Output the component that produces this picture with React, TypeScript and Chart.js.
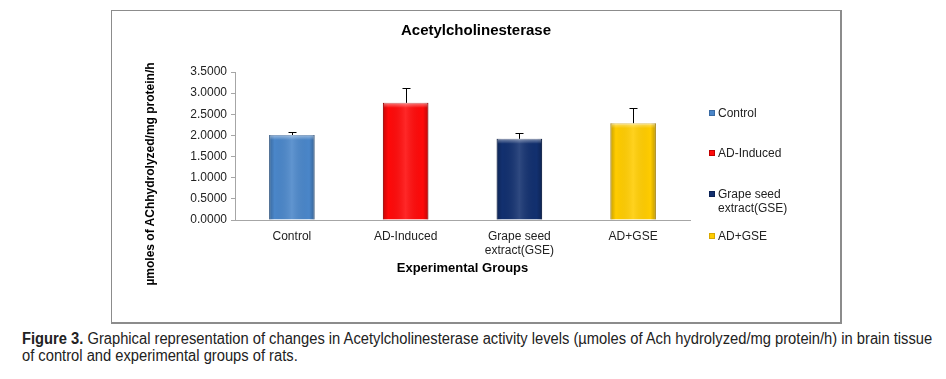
import React, { useEffect, useRef } from "react";
import { Chart, registerables } from "chart.js";

Chart.register(...registerables);

const categories = ["Control", "AD-Induced", "Grape seed extract(GSE)", "AD+GSE"];
const tickLabels: (string | string[])[] = ["Control", "AD-Induced", ["Grape seed", "extract(GSE)"], "AD+GSE"];
const legendLabels: string[][] = [["Control"], ["AD-Induced"], ["Grape seed", "extract(GSE)"], ["AD+GSE"]];
const meanValues = [2.01, 2.77, 1.92, 2.29];
const errorValues = [0.06, 0.34, 0.14, 0.37];
const barColors = ["#4a86c9", "#ff0a0a", "#12306f", "#ffcc00"];
const barBorders = ["#3a6aa3", "#c00000", "#0b2255", "#d9a800"];
const yTickValues = [0, 0.5, 1, 1.5, 2, 2.5, 3, 3.5];

const FONT = "'Liberation Sans', Arial, sans-serif";

const bevelAndErrorPlugin = {
  id: "bevelAndError",
  afterDatasetsDraw(chart: any) {
    const ctx = chart.ctx;
    const meta = chart.getDatasetMeta(0);
    const yScale = chart.scales.y;
    meta.data.forEach((el: any, i: number) => {
      const props = el.getProps(["x", "y", "base", "width"], true);
      const left = props.x - props.width / 2;
      const right = props.x + props.width / 2;
      const top = props.y;
      const bottom = props.base;
      ctx.save();
      const g = ctx.createLinearGradient(left, 0, right, 0);
      g.addColorStop(0, "rgba(0,0,0,0.22)");
      g.addColorStop(0.12, "rgba(0,0,0,0.0)");
      g.addColorStop(0.5, "rgba(255,255,255,0.12)");
      g.addColorStop(0.88, "rgba(0,0,0,0.0)");
      g.addColorStop(1, "rgba(0,0,0,0.25)");
      ctx.fillStyle = g;
      ctx.fillRect(left, top, right - left, bottom - top);
      const gt = ctx.createLinearGradient(0, top, 0, top + 5);
      gt.addColorStop(0, "rgba(255,255,255,0.45)");
      gt.addColorStop(1, "rgba(255,255,255,0)");
      ctx.fillStyle = gt;
      ctx.fillRect(left + 1, top, right - left - 2, 5);
      // error bar (upper)
      const yErr = yScale.getPixelForValue(meanValues[i] + errorValues[i]);
      const cx = Math.round(props.x) + 0.5;
      ctx.strokeStyle = "#000";
      ctx.lineWidth = 1;
      ctx.beginPath();
      ctx.moveTo(cx, top);
      ctx.lineTo(cx, Math.round(yErr) + 0.5);
      ctx.moveTo(cx - 4, Math.round(yErr) + 0.5);
      ctx.lineTo(cx + 4, Math.round(yErr) + 0.5);
      ctx.stroke();
      ctx.restore();
    });
  },
};

function ChartBox() {
  const ref = useRef<HTMLCanvasElement>(null);
  useEffect(() => {
    if (!ref.current) return;
    const chart = new Chart(ref.current, {
      type: "bar",
      data: {
        labels: tickLabels as any,
        datasets: [
          {
            label: "Acetylcholinesterase",
            data: meanValues,
            backgroundColor: barColors,
            borderColor: barBorders,
            borderWidth: 1,
            barPercentage: 0.4,
            categoryPercentage: 1,
          },
        ],
      },
      options: {
        animation: false,
        responsive: true,
        maintainAspectRatio: false,
        layout: { padding: 0 },
        plugins: {
          legend: { display: false },
          tooltip: { enabled: false },
          title: {
            display: true,
            text: "Acetylcholinesterase",
            color: "#000",
            font: { family: FONT, size: 15, weight: "bold", lineHeight: 1.2 },
            padding: { top: 11, bottom: 32 },
          },
        },
        scales: {
          x: {
            grid: { display: false, drawTicks: false },
            border: { display: true, color: "#a6a6a6", width: 1 },
            ticks: {
              color: "#222",
              padding: 9,
              font: { family: FONT, size: 12, lineHeight: 1.2 },
              maxRotation: 0,
              autoSkip: false,
            },
            title: {
              display: true,
              text: "Experimental Groups",
              color: "#000",
              font: { family: FONT, size: 13, weight: "bold", lineHeight: 1.2 },
              padding: { top: 0, bottom: 46 },
            },
            afterFit: (s: any) => {
              s.height = 102;
            },
          },
          y: {
            min: 0,
            max: 3.5,
            afterBuildTicks: (s: any) => {
              s.ticks = yTickValues.map((v) => ({ value: v }));
            },
            grid: {
              display: true,
              drawOnChartArea: false,
              drawTicks: true,
              tickLength: 4,
              color: "#a6a6a6",
            },
            border: { display: true, color: "#a6a6a6", width: 1 },
            ticks: {
              color: "#222",
              padding: 4,
              font: { family: FONT, size: 12 },
              callback: (v: any) => Number(v).toFixed(4),
            },
            afterFit: (s: any) => {
              s.width = 123;
            },
          },
          legendSpace: {
            type: "linear",
            position: "right",
            display: true,
            grid: { display: false, drawTicks: false },
            border: { display: false },
            ticks: { display: false },
            afterFit: (s: any) => {
              s.width = 150;
            },
          } as any,
        },
      },
      plugins: [bevelAndErrorPlugin],
    });
    return () => chart.destroy();
  }, []);
  return <canvas ref={ref} />;
}

export default function App() {
  const legendCenters = [113, 153, 194, 236];
  return (
    <div style={{ position: "absolute", left: 0, top: 0, width: 946, height: 379, background: "#fff", fontFamily: FONT }}>
      <div
        style={{
          position: "absolute",
          left: 111,
          top: 10,
          width: 731,
          height: 314,
          boxSizing: "border-box",
          borderLeft: "1px solid #8c8c8c",
          borderTop: "1px solid #8c8c8c",
          borderRight: "2px solid #8c8c8c",
          borderBottom: "2px solid #8c8c8c",
        }}
      />
      <div style={{ position: "absolute", left: 112, top: 11, width: 728, height: 311 }}>
        <ChartBox />
      </div>
      <div
        style={{
          position: "absolute",
          left: 150 - 150,
          top: 174 - 8,
          width: 300,
          height: 16,
          lineHeight: "16px",
          textAlign: "center",
          fontSize: 12,
          fontWeight: "bold",
          color: "#000",
          transform: "rotate(-90deg)",
          whiteSpace: "nowrap",
        }}
      >
        µmoles of AChhydrolyzed/mg protein/h
      </div>
      {legendLabels.map((lines, i) => (
        <div
          key={categories[i]}
          style={{
            position: "absolute",
            left: 709,
            top: legendCenters[i] - 7,
            display: "flex",
            alignItems: "flex-start",
            fontSize: 12,
            lineHeight: "14px",
            color: "#222",
          }}
        >
          <div
            style={{
              width: 6,
              height: 6,
              marginTop: 4,
              marginRight: 3,
              background: barColors[i],
              border: `1px solid ${barBorders[i]}`,
              boxSizing: "border-box",
            }}
          />
          <div>
            {lines.map((l) => (
              <div key={l} style={{ whiteSpace: "nowrap" }}>{l}</div>
            ))}
          </div>
        </div>
      ))}
      <div
        style={{
          position: "absolute",
          left: 22,
          top: 330,
          fontFamily: "'Liberation Sans', Arial, sans-serif",
          fontSize: 16,
          lineHeight: "17px",
          color: "#222",
          whiteSpace: "nowrap",
          transform: "scaleX(0.92)",
          transformOrigin: "0 0",
        }}
      >
        <div>
          <b>Figure 3.</b> Graphical representation of changes in Acetylcholinesterase activity levels (µmoles of Ach hydrolyzed/mg protein/h) in brain tissue
        </div>
        <div>of control and experimental groups of rats.</div>
      </div>
    </div>
  );
}
